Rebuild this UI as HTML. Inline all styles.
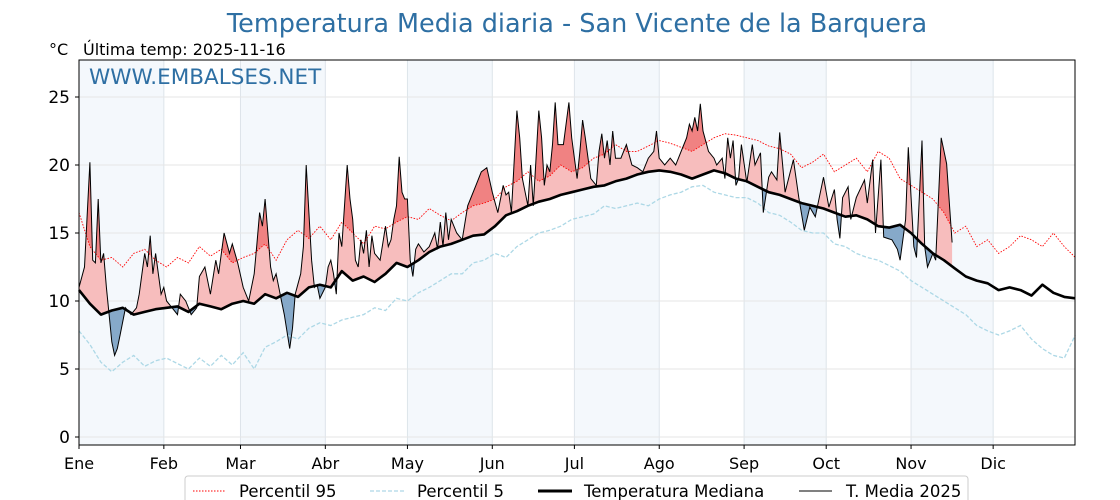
<!DOCTYPE html>
<html><head><meta charset="utf-8"><style>
body{margin:0;background:#fff;width:1120px;height:500px;overflow:hidden;font-family:"DejaVu Sans","Liberation Sans",sans-serif}
svg{display:block}
</style></head><body>
<svg id="chart" width="1120" height="500" font-family="DejaVu Sans, Liberation Sans, sans-serif">
<text x="577" y="32" text-anchor="middle" font-size="25.5" fill="#2e6fa3">Temperatura Media diaria - San Vicente de la Barquera</text>
<text x="49" y="55" font-size="16" fill="#000">°C</text>
<text x="83" y="55" font-size="16" fill="#000">Última temp: 2025-11-16</text>
<g id="bands"></g>
<g id="grid"></g>
<g id="fills"></g>
<g id="lines"></g>
<text x="89" y="84" font-size="21.5" fill="#2e6fa3">WWW.EMBALSES.NET</text>
<rect x="79" y="60" width="996" height="385" fill="none" stroke="#000" stroke-width="1"/>
<g id="axes"></g>
<g>
<rect x="185" y="476" width="783" height="30" rx="3" fill="#fff" stroke="#ccc"/>
<line x1="193" y1="491" x2="225" y2="491" stroke="red" stroke-width="1" stroke-dasharray="1.5,1.5"/>
<text x="239" y="497" font-size="16.5">Percentil 95</text>
<line x1="370" y1="491" x2="404" y2="491" stroke="#add8e6" stroke-width="1.3" stroke-dasharray="4,2"/>
<text x="417" y="497" font-size="16.5">Percentil 5</text>
<line x1="538" y1="491" x2="572" y2="491" stroke="#000" stroke-width="3"/>
<text x="584" y="497" font-size="16.5">Temperatura Mediana</text>
<line x1="799" y1="491" x2="832" y2="491" stroke="#000" stroke-width="1"/>
<text x="846" y="497" font-size="16.5">T. Media 2025</text>
</g>
</svg>
<script>
const monthLabels=["Ene","Feb","Mar","Abr","May","Jun","Jul","Ago","Sep","Oct","Nov","Dic"];
const monthStarts=[0,31,59,90,120,151,181,212,243,273,304,334];
const yTicks=[0,5,10,15,20,25];
const step=4;
const median=[10.8,9.8,9.0,9.3,9.5,9.0,9.2,9.4, 9.5,9.6,9.2,9.8,9.6,9.4,9.8, 10.0,9.8,10.5,10.2,10.6,10.3,11.0,11.2, 11.0,12.2,11.5,11.8,11.4,12.0,12.8,12.5, 13.0,13.6,14.0,14.2,14.5,14.8,14.9, 15.5,16.3,16.6,17.0,17.3,17.5,17.8,18.0, 18.2,18.4,18.5,18.8,19.0,19.3,19.5, 19.6,19.5,19.3,19.0,19.3,19.6,19.4,19.0, 18.8,18.4,18.0,17.8,17.5,17.2,17.0, 16.8,16.5,16.2,16.3,16.0,15.5,15.4,15.6, 15.0,14.2,13.5,13.0,12.4,11.8,11.5,11.3, 10.8,11.0,10.8,10.4,11.2,10.6,10.3,10.2];
const p95=[16.5,14.0,13.0,13.2,12.5,13.5,13.8,13.0, 12.5,13.2,12.8,14.0,13.3,13.8,12.8, 13.2,13.5,14.2,13.0,14.5,15.2,14.6,15.5, 14.5,15.8,15.0,14.2,15.5,15.3,15.8,16.2, 16.0,16.8,16.3,15.9,16.5,17.0,17.2, 17.5,18.4,18.8,19.5,18.8,19.2,20.0,19.5, 19.8,20.5,20.8,21.5,21.0,21.0,21.4, 21.8,21.6,21.3,21.0,21.5,22.0,22.3,22.2, 22.0,21.8,21.4,21.2,20.8,19.8,20.2, 20.8,19.5,20.0,20.5,19.5,21.0,20.5,19.0, 18.5,18.0,17.5,16.5,15.0,15.5,14.0,14.5, 13.5,14.0,14.8,14.5,14.0,15.0,14.0,13.2];
const p5=[7.8,6.8,5.5,4.8,5.5,6.0,5.2,5.6, 5.8,5.4,5.0,5.8,5.2,6.0,5.3, 6.2,5.0,6.6,7.0,7.5,7.2,8.0,8.4, 8.2,8.6,8.8,9.0,9.5,9.3,10.2,10.0, 10.6,11.0,11.5,12.0,12.0,12.8,13.0, 13.5,13.2,14.0,14.5,15.0,15.2,15.5,16.0, 16.2,16.4,17.0,16.8,17.0,17.2,17.0, 17.5,17.8,18.0,18.4,18.5,18.0,17.8,17.6, 17.6,17.2,16.5,16.3,15.8,15.2,15.0, 15.0,14.2,14.0,13.5,13.2,13.0,12.6,12.2, 11.5,11.0,10.5,10.0,9.5,9.0,8.2,7.8, 7.5,7.8,8.2,7.2,6.5,6.0,5.8,7.5];
const tDays=[0,2,4,5,6,7,8,9,10,11,12,13,14,15,17,19,21,22,24,25,26,27,28,30,31,32,34,36,37,39,41,43,44,46,48,50,51,53,55,56,58,60,62,64,65,66,67,68,70,71,72,74,75,77,78,79,81,82,83,85,86,87,88,90,91,92,93,94,95,96,97,98,99,100,101,102,103,104,105,106,107,108,110,112,113,114,115,116,117,118,119,120,121,122,123,124,126,128,130,131,132,133,134,135,136,138,140,142,145,147,149,151,153,155,156,157,158,160,161,162,164,165,166,168,169,170,171,172,173,174,175,177,179,180,181,182,183,184,185,187,189,190,191,192,193,194,195,196,198,200,202,204,206,208,210,211,212,214,216,218,220,222,223,224,225,226,227,228,230,232,233,235,236,237,238,239,240,241,242,244,246,247,249,250,252,253,255,256,258,261,263,265,267,269,272,274,276,277,278,279,281,282,284,287,288,290,291,293,294,297,299,300,302,303,305,306,308,309,310,312,313,315,317,319];
const tVals=[11.0,12.5,20.2,13,12.8,17.5,12.8,13.5,11,9.0,7.0,6.0,6.5,7.5,9.5,9.0,9.5,10.5,13.5,12.5,14.8,12.0,13.5,10.5,11.0,10.0,9.5,9.0,10.5,10.0,9.0,9.5,11.8,12.5,10.5,13.0,12.0,15.0,13.5,14.2,12.8,11.0,10.0,12.0,14.2,16.5,15.5,17.5,12.5,11.5,12.0,10.0,9.0,6.5,8.0,10.5,12.0,14.0,20.0,13.0,11.0,11.2,10.2,11.0,12.5,13.0,12.0,10.5,15.0,14.0,17.0,20.0,17.5,16.0,13.0,12.5,14.5,13.5,15.2,12.5,14.8,13.5,13.0,15.5,14.0,14.5,16.0,17.0,20.6,18.0,17.5,17.5,13.0,11.8,13.8,14.2,13.6,14.0,15.0,13.8,15.8,14.0,16.5,14.5,16.0,15.0,14.5,17.0,18.5,19.5,19.8,18.0,16.5,18.5,17.8,18.0,16.5,24.0,22.0,19.0,17.0,20.0,17.0,24.0,22.0,18.5,20.0,19.5,21.5,24.6,21.5,21.5,24.6,22.0,20.5,19.0,21.0,23.3,22.0,19.0,18.5,21.0,22.3,20.5,21.8,20.0,22.5,20.5,20.5,21.5,20.0,19.8,19.5,20.5,21.0,22.5,20.5,20.0,20.5,20.0,21.0,22.0,23.0,22.5,23.5,22.5,24.5,22.5,21.0,20.5,20.0,20.5,19.0,22.0,20.5,21.8,18.5,19.0,21.5,18.7,21.5,20.0,20.9,16.5,19.1,19.5,18.9,22.4,18.0,20.4,17.6,15.2,16.9,16.2,19.1,16.9,18.2,16.0,14.6,17.6,18.4,16.0,17.6,18.9,17.2,20.4,15.0,20.4,14.7,14.5,13.8,13.0,16.0,21.3,14.0,13.2,21.8,14.0,12.5,13.5,13.0,22.0,20.1,14.3];

const NS="http://www.w3.org/2000/svg";
const X0=79,X1=1075,Y0=60,Y1=445;
const xs=d=>X0+d*2.737;
const ys=v=>437-v*13.6;
function mk(tag,attrs,parent){const e=document.createElementNS(NS,tag);for(const k in attrs)e.setAttribute(k,attrs[k]);parent.appendChild(e);return e;}
function interp(arr,d){const i=Math.floor(d/step),f=d/step-i;if(i>=arr.length-1)return arr[arr.length-1];return arr[i]*(1-f)+arr[i+1]*f;}
const bands=document.getElementById('bands'),grid=document.getElementById('grid'),fills=document.getElementById('fills'),lines=document.getElementById('lines'),axes=document.getElementById('axes');
monthStarts.forEach((m,i)=>{
  if(i%2===0){const end=i+1<monthStarts.length?monthStarts[i+1]:365;
    const r=mk('rect',{x:xs(m),y:Y0,width:Math.min(xs(end),X1)-xs(m),height:Y1-Y0,fill:'#f4f8fc'},bands);
    
    }
  const g=mk('line',{x1:xs(m),x2:xs(m),y1:Y0,y2:Y1,stroke:'#dde4ea','stroke-width':1},grid);
  
  
  const t=mk('line',{x1:xs(m),x2:xs(m),y1:Y1,y2:Y1+4,stroke:'#000'},axes);
  
  
  const l=mk('text',{x:xs(m),y:469,'text-anchor':'middle','font-size':16},axes);
  l.textContent=monthLabels[i];
  
  
});
yTicks.forEach(v=>{
  const g=mk('line',{x1:X0,x2:X1,y1:ys(v),y2:ys(v),stroke:'#e6e6e6','stroke-width':1},grid);
  
  
  const t=mk('line',{x1:X0-4,x2:X0,y1:ys(v),y2:ys(v),stroke:'#000'},axes);
  
  
  const l=mk('text',{x:X0-9,y:ys(v)+6,'text-anchor':'end','font-size':17},axes);
  l.textContent=v;
  
  
});
const pts=arr=>arr.map((v,i)=>xs(i*step).toFixed(1)+','+ys(v).toFixed(1));
const defs=mk('defs',{},document.getElementById('chart'));
function clipAbove(id,arr,above){const c=mk('clipPath',{id:id},defs);const p=pts(arr);const edge=above?Y0-50:Y1+50;
  mk('polygon',{points:xs(0)+','+edge+' '+p.join(' ')+' '+xs((arr.length-1)*step)+','+edge},c);}
clipAbove('aboveMed',median,true);clipAbove('belowMed',median,false);clipAbove('aboveP95',p95,true);
function band(arr){const lastD=tDays[tDays.length-1];const fw=tDays.map((d,i)=>xs(d).toFixed(1)+','+ys(tVals[i]).toFixed(1));
  const bw=[];for(let d=lastD;d>=0;d-=0.5)bw.push(xs(d).toFixed(1)+','+ys(interp(arr,d)).toFixed(1));return fw.concat(bw).join(' ');}
const f1=mk('polygon',{points:band(median),fill:'#f7bdbd','clip-path':'url(#aboveMed)'},fills);


const f2=mk('polygon',{points:band(median),fill:'#86a9c9','clip-path':'url(#belowMed)'},fills);


const f3=mk('polygon',{points:band(p95),fill:'#f08282','clip-path':'url(#aboveP95)'},fills);


const l95=mk('polyline',{points:pts(p95).join(' '),fill:'none',stroke:'red','stroke-width':0.9,'stroke-dasharray':'1.5,1.5'},lines);


const l5=mk('polyline',{points:pts(p5).join(' '),fill:'none',stroke:'#add8e6','stroke-width':1.3,'stroke-dasharray':'4,2'},lines);


const lt=mk('polyline',{points:tDays.map((d,i)=>xs(d).toFixed(1)+','+ys(tVals[i]).toFixed(1)).join(' '),fill:'none',stroke:'#000','stroke-width':1},lines);


const lm=mk('polyline',{points:pts(median).join(' '),fill:'none',stroke:'#000','stroke-width':2.6,'stroke-linejoin':'round'},lines);


</script>
</body></html>
